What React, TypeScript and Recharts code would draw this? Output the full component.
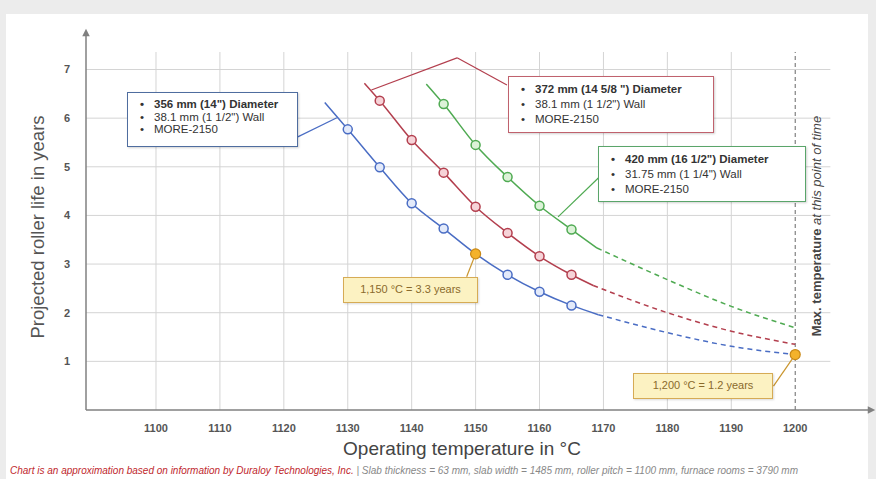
import { LineChart, Line, XAxis, YAxis, ReferenceLine } from "recharts";

// axis ticks
const xTicks = [1100, 1110, 1120, 1130, 1140, 1150, 1160, 1170, 1180, 1190, 1200];
const yTicks = [1, 2, 3, 4, 5, 6, 7];

// 356 mm roller (blue)
const blueSolidX = [1126.4, 1130, 1135, 1140, 1145, 1150, 1155, 1160, 1165, 1169.2];
const blueSolidY = [6.32, 5.77, 4.99, 4.25, 3.73, 3.21, 2.78, 2.43, 2.15, 1.96];
const blueDashX = [1169.2, 1180, 1190, 1200];
const blueDashY = [1.96, 1.59, 1.31, 1.14];
const blueMarks = [1130, 1135, 1140, 1145, 1155, 1160, 1165];

// 372 mm roller (red)
const redSolidX = [1132.6, 1135, 1140, 1145, 1150, 1155, 1160, 1165, 1168.4];
const redSolidY = [6.72, 6.36, 5.55, 4.88, 4.18, 3.64, 3.16, 2.78, 2.56];
const redDashX = [1168.4, 1180, 1190, 1200];
const redDashY = [2.56, 2.0, 1.62, 1.35];
const redMarks = [1135, 1140, 1145, 1150, 1155, 1160, 1165];

// 420 mm roller (green)
const greenSolidX = [1142.3, 1145, 1150, 1155, 1160, 1165, 1169];
const greenSolidY = [6.7, 6.29, 5.45, 4.79, 4.2, 3.71, 3.33];
const greenDashX = [1169, 1180, 1190, 1200];
const greenDashY = [3.33, 2.68, 2.13, 1.69];
const greenMarks = [1145, 1150, 1155, 1160, 1165];

// highlighted readings
const highlightTemps = [1150, 1200];

const blueLabel = ['356 mm (14") Diameter', '38.1 mm (1 1/2") Wall', "MORE-2150"];
const redLabel = ['372 mm (14 5/8 ") Diameter', '38.1 mm (1 1/2") Wall', "MORE-2150"];
const greenLabel = ['420 mm (16 1/2") Diameter', '31.75 mm (1 1/4") Wall', "MORE-2150"];
const note1150 = "1,150 °C = 3.3 years";
const note1200 = "1,200 °C = 1.2 years";

const toPoints = (xs: number[], ys: number[]) => xs.map((x, i) => ({ x, y: ys[i] }));

const X_MIN = 1089.05;
const X_MAX = 1211.7;
const Y_MAX = 7.73;

const BLUE = "#4a6dc4";
const RED = "#b33f4e";
const GREEN = "#4faa52";
const AXIS = "#808080";
const GRID = "#d4d4d4";

const sans = "'Liberation Sans', Arial, sans-serif";
const narrow = "'Liberation Sans Narrow', 'Liberation Sans', Arial, sans-serif";

function makeDot(color: string, fill: string, marks: number[], hl: number[]) {
  return (props: any) => {
    const { cx, cy, payload, index } = props;
    if (hl.includes(payload.x)) {
      return <circle key={`d${index}`} cx={cx} cy={cy} r={5} fill="#f4b22b" stroke="#c98816" strokeWidth={1.2} />;
    }
    if (marks.includes(payload.x)) {
      return <circle key={`d${index}`} cx={cx} cy={cy} r={4.5} fill={fill} stroke={color} strokeWidth={1.5} />;
    }
    return <g key={`d${index}`} />;
  };
}

function InfoBox({ left, top, width, height, border, lines, pad, gap }: any) {
  return (
    <div
      style={{
        position: "absolute",
        left,
        top,
        width,
        height,
        boxSizing: "border-box",
        border: `1.5px solid ${border}`,
        background: "#fff",
        boxShadow: "1px 1px 2px rgba(0,0,0,0.18)",
        fontFamily: sans,
        fontSize: 11.5,
        color: "#333",
        paddingTop: pad,
      }}
    >
      {lines.map((t: string, i: number) => (
        <div key={i} style={{ display: "flex", lineHeight: `${gap}px`, fontWeight: i === 0 ? 700 : 400 }}>
          <span style={{ width: 24, textAlign: "center", paddingLeft: 2 }}>•</span>
          <span>{t}</span>
        </div>
      ))}
    </div>
  );
}

function NoteBox({ left, top, width, text }: any) {
  return (
    <div
      style={{
        position: "absolute",
        left,
        top,
        width,
        height: 26,
        boxSizing: "border-box",
        border: "1.5px solid #d6ab55",
        background: "#fcf2c2",
        boxShadow: "1px 1px 2px rgba(0,0,0,0.15)",
        fontFamily: sans,
        fontSize: 11,
        color: "#8a6a2c",
        textAlign: "center",
        lineHeight: "23px",
      }}
    >
      {text}
    </div>
  );
}

export default function App() {
  const lineSets = [
    { solid: toPoints(blueSolidX, blueSolidY), dash: toPoints(blueDashX, blueDashY), color: BLUE, fill: "#e3eafa", marks: blueMarks, hl: highlightTemps },
    { solid: toPoints(redSolidX, redSolidY), dash: toPoints(redDashX, redDashY), color: RED, fill: "#f6d3d8", marks: redMarks, hl: [] },
    { solid: toPoints(greenSolidX, greenSolidY), dash: toPoints(greenDashX, greenDashY), color: GREEN, fill: "#dcf2d8", marks: greenMarks, hl: [] },
  ];

  return (
    <div style={{ position: "fixed", left: 0, top: 0, width: 876, height: 479, background: "#ececec", overflow: "hidden" }}>
      <div style={{ position: "absolute", left: 6, top: 14, right: 8, bottom: 0, background: "#fff" }} />
      <div style={{ position: "absolute", left: 0, top: 0 }}>
        <LineChart width={876} height={479} margin={{ top: 34, right: 6, bottom: 39, left: 26 }}>
          <defs>
            <marker id="arrowHead" viewBox="0 0 10 10" refX="3" refY="5" markerWidth="6" markerHeight="5" orient="auto-start-reverse">
              <path d="M0,0 L10,5 L0,10 z" fill={AXIS} />
            </marker>
          </defs>
          <XAxis
            type="number"
            dataKey="x"
            domain={[X_MIN, X_MAX]}
            ticks={xTicks}
            allowDataOverflow
            tickLine={false}
            tickMargin={8}
            axisLine={{ stroke: AXIS, strokeWidth: 1.5, markerEnd: "url(#arrowHead)" }}
            tick={{ fill: "#555", fontSize: 11, fontFamily: narrow, fontWeight: 700 }}
          />
          <YAxis
            type="number"
            dataKey="y"
            domain={[0, Y_MAX]}
            ticks={yTicks}
            allowDataOverflow
            width={60}
            tickLine={false}
            tickMargin={10}
            axisLine={{ stroke: AXIS, strokeWidth: 1.5, markerStart: "url(#arrowHead)" }}
            tick={{ fill: "#555", fontSize: 11, fontFamily: narrow, fontWeight: 700 }}
          />
          {yTicks.map((v) => (
            <ReferenceLine key={`h${v}`} segment={[{ x: X_MIN, y: v }, { x: 1205.5, y: v }]} stroke={GRID} strokeWidth={1} ifOverflow="visible" />
          ))}
          {xTicks.slice(0, -1).map((v) => (
            <ReferenceLine key={`v${v}`} segment={[{ x: v, y: 0 }, { x: v, y: 7.36 }]} stroke={GRID} strokeWidth={1} ifOverflow="visible" />
          ))}
          <ReferenceLine segment={[{ x: 1200, y: 0 }, { x: 1200, y: 7.36 }]} stroke="#666" strokeWidth={1} strokeDasharray="4 3" ifOverflow="visible" />

          {/* leader lines from the labels to the curves */}
          <ReferenceLine segment={[{ x: 1122.1, y: 5.61 }, { x: 1128.3, y: 6.01 }]} stroke={BLUE} strokeWidth={1.2} ifOverflow="visible" />
          <ReferenceLine segment={[{ x: 1133.7, y: 6.58 }, { x: 1147.1, y: 7.24 }]} stroke={RED} strokeWidth={1.2} ifOverflow="visible" />
          <ReferenceLine segment={[{ x: 1147.1, y: 7.24 }, { x: 1154.9, y: 6.68 }]} stroke={RED} strokeWidth={1.2} ifOverflow="visible" />
          <ReferenceLine segment={[{ x: 1162.9, y: 3.97 }, { x: 1169.2, y: 4.77 }]} stroke={GREEN} strokeWidth={1.2} ifOverflow="visible" />
          <ReferenceLine segment={[{ x: 1148.6, y: 2.74 }, { x: 1150, y: 3.21 }]} stroke="#c9952e" strokeWidth={1.2} ifOverflow="visible" />
          <ReferenceLine segment={[{ x: 1196.6, y: 0.49 }, { x: 1200, y: 1.14 }]} stroke="#c9952e" strokeWidth={1.2} ifOverflow="visible" />

          {lineSets.map((s, i) => (
            <Line
              key={`dash${i}`}
              data={s.dash}
              dataKey="y"
              type="monotone"
              stroke={s.color}
              strokeWidth={1.5}
              strokeDasharray="5 4"
              dot={makeDot(s.color, s.fill, s.marks, s.hl)}
              activeDot={false}
              isAnimationActive={false}
            />
          ))}
          {lineSets.map((s, i) => (
            <Line
              key={`solid${i}`}
              data={s.solid}
              dataKey="y"
              type="monotone"
              stroke={s.color}
              strokeWidth={1.5}
              dot={makeDot(s.color, s.fill, s.marks, s.hl)}
              activeDot={false}
              isAnimationActive={false}
            />
          ))}
        </LineChart>
      </div>

      <InfoBox left={127} top={92} width={171} height={55} border="#4f6d9f" lines={blueLabel} pad={5} gap={12.5} />
      <InfoBox left={508} top={76} width={206} height={57} border="#c0616d" lines={redLabel} pad={5} gap={15} />
      <InfoBox left={598} top={146} width={208} height={56} border="#5aa56a" lines={greenLabel} pad={5} gap={15} />
      <NoteBox left={343} top={277} width={135} text={note1150} />
      <NoteBox left={633} top={373} width={140} text={note1200} />

      <div
        style={{
          position: "absolute",
          left: 816,
          top: 226,
          transform: "translate(-50%, -50%) rotate(-90deg)",
          whiteSpace: "nowrap",
          fontFamily: sans,
          fontSize: 13,
          color: "#444",
          fontStyle: "italic",
        }}
      >
        <span style={{ fontWeight: 700, fontStyle: "normal" }}>Max. temperature</span> at this point of time
      </div>

      <div
        style={{
          position: "absolute",
          left: 38,
          top: 227,
          transform: "translate(-50%, -50%) rotate(-90deg)",
          whiteSpace: "nowrap",
          fontFamily: sans,
          fontSize: 18.5,
          color: "#555",
        }}
      >
        Projected roller life in years
      </div>

      <div
        style={{
          position: "absolute",
          left: 462,
          top: 449,
          transform: "translate(-50%, -50%)",
          whiteSpace: "nowrap",
          fontFamily: narrow,
          fontSize: 19,
          color: "#444",
        }}
      >
        Operating temperature in °C
      </div>

      <div
        style={{
          position: "absolute",
          left: 10,
          top: 465,
          whiteSpace: "nowrap",
          fontFamily: narrow,
          fontSize: 10,
          lineHeight: "12px",
          fontStyle: "italic",
          color: "#888",
        }}
      >
        <span style={{ color: "#c0282d" }}>Chart is an approximation based on information by Duraloy Technologies, Inc.</span>
        {" | Slab thickness = 63 mm, slab width = 1485 mm, roller pitch = 1100 mm, furnace rooms = 3790 mm"}
      </div>
    </div>
  );
}
